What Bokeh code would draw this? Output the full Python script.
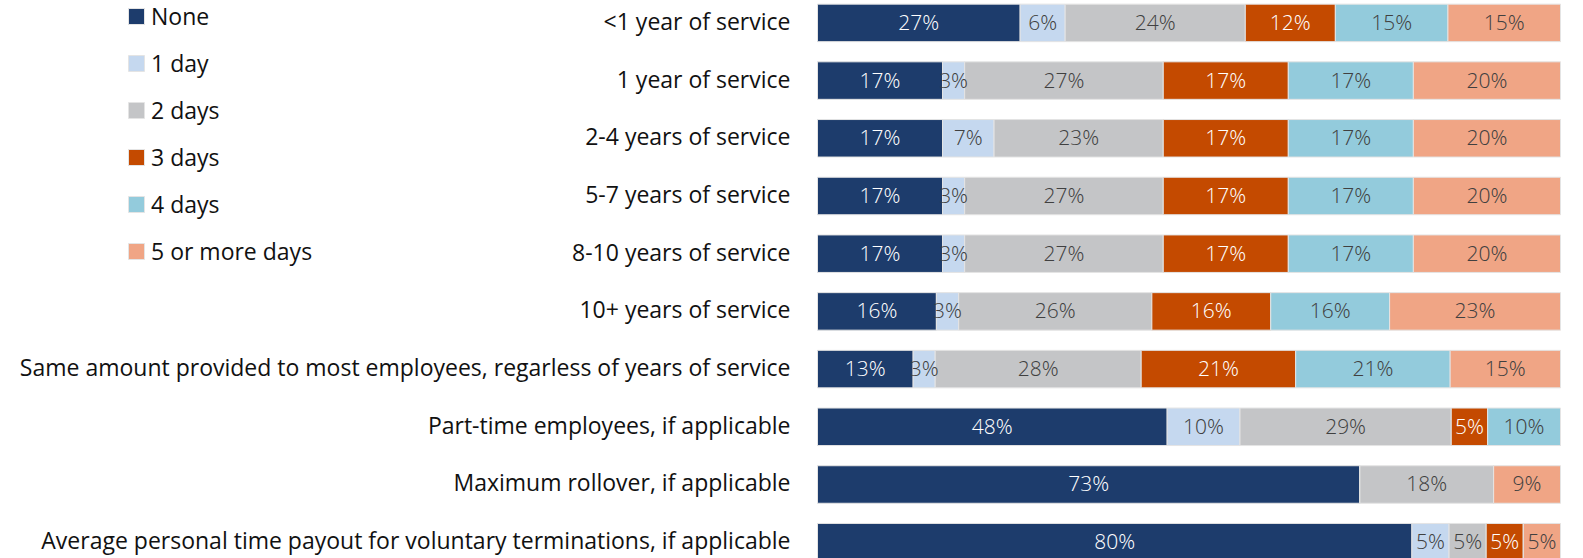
from bokeh.plotting import figure
from bokeh.models import ColumnDataSource, Range1d
from bokeh.core.properties import value
from bokeh.embed import file_html
from bokeh.resources import INLINE

categories = [
    "<1 year of service",
    "1 year of service",
    "2-4 years of service",
    "5-7 years of service",
    "8-10 years of service",
    "10+ years of service",
    "Same amount provided to most employees, regarless of years of service",
    "Part-time employees, if applicable",
    "Maximum rollover, if applicable",
    "Average personal time payout for voluntary terminations, if applicable",
]
series = ["None", "1 day", "2 days", "3 days", "4 days", "5 or more days"]
none_vals = [27, 17, 17, 17, 17, 16, 13, 48, 73, 80]
one_day = [6, 3, 7, 3, 3, 3, 3, 10, 0, 5]
two_days = [24, 27, 23, 27, 27, 26, 28, 29, 18, 5]
three_days = [12, 17, 17, 17, 17, 16, 21, 5, 0, 5]
four_days = [15, 17, 17, 17, 17, 16, 21, 10, 0, 0]
five_plus = [15, 20, 20, 20, 20, 23, 15, 0, 9, 5]

colors = ["#1d3c6c", "#c5d8ef", "#c4c5c7", "#c44a00", "#93cbdc", "#f0a585"]
label_colors = ["#ffffff", "#404040", "#404040", "#ffffff", "#404040", "#404040"]

all_vals = [none_vals, one_day, two_days, three_days, four_days, five_plus]
keys = ["s%d" % i for i in range(len(series))]
n = len(categories)
ys = [n - 1 - i for i in range(n)]
totals = [sum(v[i] for v in all_vals) for i in range(n)]

data = {"y": ys, "cat": categories, "x0": [0] * n}
for k, v in zip(keys, all_vals):
    data[k] = [100.0 * v[i] / totals[i] for i in range(n)]
src = ColumnDataSource(data)

# label source
lx, ly, lt, lc = [], [], [], []
for i in range(n):
    cum = 0.0
    for j, v in enumerate(all_vals):
        w = 100.0 * v[i] / totals[i]
        if v[i] > 0:
            lx.append(cum + w / 2)
            ly.append(ys[i])
            lt.append("%d%%" % v[i])
            lc.append(label_colors[j])
        cum += w
lsrc = ColumnDataSource(dict(x=lx, y=ly, t=lt, c=lc))

W, H = 1583, 558
bar_left_px, bar_right_px = 817, 1560
ppu = (bar_right_px - bar_left_px) / 100.0
x_range = Range1d(-bar_left_px / ppu, 100 + (W - bar_right_px) / ppu)

p = figure(width=W, height=H, output_backend="svg", toolbar_location=None,
           x_range=x_range, y_range=Range1d(-0.2825, 9.388),
           min_border=0)
p.outline_line_color = None
p.xgrid.visible = False
p.ygrid.visible = False
p.xaxis.visible = False
p.yaxis.visible = False

p.hbar_stack(keys, y="y", height=0.65, color=colors, source=src,
             line_color="#e4e4e4", line_width=1, legend_label=series)

p.text(x="x", y="y", text="t", source=lsrc, text_color="c",
       text_align="center", text_baseline="middle", y_offset=-1,
       text_font=value("'Open Sans Light', 'Open Sans'"),
       text_font_size="21px")

# category labels
p.text(x="x0", y="y", text="cat", source=src, text_color="#111111",
       text_align="right", text_baseline="middle", x_offset=-27, y_offset=-2,
       text_font=value("Open Sans"), text_font_size="23px")

leg = p.legend[0]
leg.location = (126, 291)
leg.padding = 0
leg.margin = 0
leg.border_line_alpha = 0
leg.background_fill_alpha = 0
leg.glyph_width = 20
leg.glyph_height = 20
leg.label_standoff = 5
leg.label_height = 26
leg.spacing = 15
leg.label_text_font = "Open Sans"
leg.label_text_font_size = "23px"
leg.label_text_color = "#111111"

open("out.html", "w").write(file_html(p, INLINE))
